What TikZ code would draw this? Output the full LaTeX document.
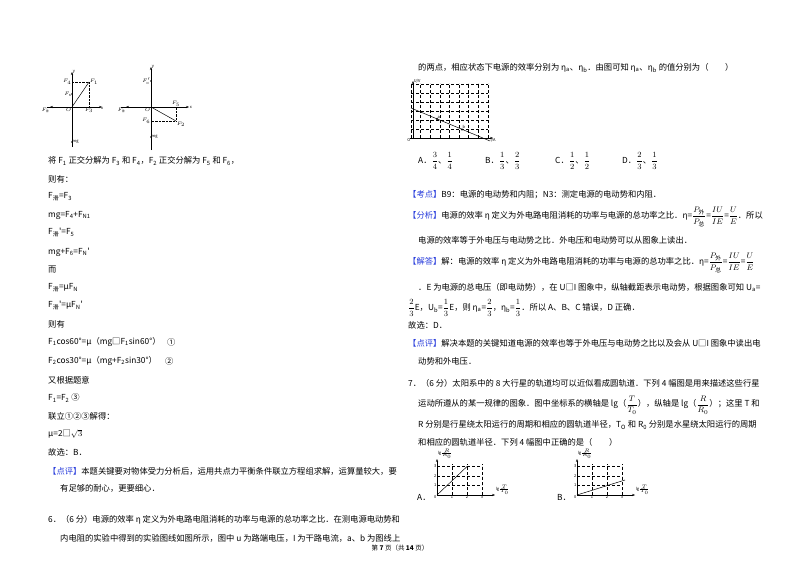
\documentclass[tikz,border=0pt]{standalone}
\usepackage{fontspec}
\usepackage{amsmath}
\setmainfont{Liberation Serif}
\newfontfamily\cn{Noto Sans CJK SC}
\usetikzlibrary{arrows.meta}
\definecolor{kblue}{RGB}{40,60,220}
\newcommand{\zh}[1]{\text{\cn #1}}
\begin{document}
\begin{tikzpicture}[x=1pt,y=-1pt,
 t/.style={anchor=west,inner sep=0pt,font=\fontsize{8.3}{10}\selectfont\cn},
 sm/.style={inner sep=0.5pt,font=\fontsize{4}{4}\selectfont\cn\itshape},
 ax/.style={line width=0.5pt,-{Stealth[length=3pt]}},
 grd/.style={densely dashed,line width=0.35pt}]
\useasboundingbox[fill=white] (0,0) rectangle (800,565);
% ---------- left force diagrams
\begin{scope}[shift={(72,107)}]
\coordinate (o1) at (0,0);
\draw[ax] (0,40) -- (0,-35) node[sm,right]{y};
\draw[ax] (-25,0) -- (30,0) node[sm,below]{x};
\draw[ax] (0,0) -- (-22,0) node[sm,below left]{$F_{\zh{滑}}$};
\draw[line width=0.5pt] (o1) -- (17,-25) node[sm,right]{$F_1$};
\draw[densely dotted] (17,-25) -- (0,-25) node[sm,left]{$F_4$};
\draw[densely dotted] (17,-25) -- (17,0) node[sm,below]{$F_3$};
\fill (0,-13) circle(0.9) node[sm,left]{$F_{\text{N}}$};
\node[sm,below left] at (0,0){$O$};
\fill (0,35) circle(0.8) node[sm,right]{mg};
\end{scope}
\begin{scope}[shift={(151,107)}]
\draw[ax] (0,43) -- (0,-40) node[sm,right]{y};
\draw[ax] (-30,0) -- (38,0) node[sm,right]{x};
\draw[ax] (0,0) -- (-25,0) node[sm,below left]{$F_{\zh{滑}}$};
\draw[line width=0.5pt] (0,0) -- (25,14) node[sm,below right]{$F_2$};
\draw[densely dotted] (25,14) -- (0,14) node[sm,left]{$F_6$};
\draw[densely dotted] (25,14) -- (25,0) node[sm,above]{$F_5$};
\fill (0,-26) circle(0.9) node[sm,left]{$F_{\text{N}}'$};
\node[sm,below left] at (0,0){$O$};
\fill (0,30) circle(0.8) node[sm,right]{mg};
\end{scope}
% ---------- left text
\node[t] (l1) at (48,161) {将 F\textsubscript{1} 正交分解为 F\textsubscript{3} 和 F\textsubscript{4}，F\textsubscript{2} 正交分解为 F\textsubscript{5} 和 F\textsubscript{6}，};
\node[t] (l2) at (48,179) {则有：};
\node[t] (l3) at (48,197) {F\textsubscript{滑}=F\textsubscript{3}};
\node[t] (l4) at (48,215) {mg=F\textsubscript{4}+F\textsubscript{N1}};
\node[t] (l5) at (48,233) {F\textsubscript{滑}'=F\textsubscript{5}};
\node[t] (l6) at (48,252) {mg+F\textsubscript{6}=F\textsubscript{N}'};
\node[t] (l7) at (48,270) {而};
\node[t] (l8) at (48,288) {F\textsubscript{滑}=μF\textsubscript{N}};
\node[t] (l9) at (48,306) {F\textsubscript{滑}'=μF\textsubscript{N}'};
\node[t] (l10) at (48,324) {则有};
\node[t] (l11) at (48,342) {F\textsubscript{1}cos60°=μ（mg□F\textsubscript{1}sin60°）};
\node[t] (c1) at (167,342) {①};
\node[t] (l12) at (48,361) {F\textsubscript{2}cos30°=μ（mg+F\textsubscript{2}sin30°）};
\node[t] (c2) at (165,361) {②};
\node[t] (l13) at (48,380) {又根据题意};
\node[t] (l14) at (48,398) {F\textsubscript{1}=F\textsubscript{2} ③};
\node[t] (l15) at (48,416) {联立①②③解得：};
\node[t] (l16) at (48,434) {μ=2□$\sqrt{3}$};
\node[t] (l17) at (48,452) {故选：B．};
\node[t] (l18) at (48,471) {{\color{kblue}【点评】}本题关键要对物体受力分析后，运用共点力平衡条件联立方程组求解，运算量较大，要};
\node[t] (l19) at (60,488) {有足够的耐心，更要细心．};
\node[t] (l20) at (48,520) {6．（6 分）电源的效率 η 定义为外电路电阻消耗的功率与电源的总功率之比．在测电源电动势和};
\node[t] (l21) at (60,538) {内电阻的实验中得到的实验图线如图所示，图中 u 为路端电压，I 为干路电流，a、b 为图线上};
% ---------- right column
\node[t] (r1) at (418,68) {的两点，相应状态下电源的效率分别为 η\textsubscript{a}、η\textsubscript{b}．由图可知 η\textsubscript{a}、η\textsubscript{b} 的值分别为（\qquad）};
\begin{scope}[shift={(413,138)}]
\foreach \i in {0,...,8}{\draw[grd] (-2+\i*9.6,0) -- (-2+\i*9.6,-55);}
\foreach \j in {1,...,6}{\draw[grd] (-2,-\j*9) -- (75,-\j*9);}
\draw[ax] (0,0) -- (0,-57) node[sm,right]{U/V};
\draw[ax] (-3,0) -- (80,0) node[sm,below]{I/A};
\node[sm,below left] at (-2,0){O};
\draw[line width=0.5pt] (-2,-30) -- (77,3);
\fill (24,-19) circle(1.2) node[sm,above right]{a};
\fill (49,-8.5) circle(1.2) node[sm,above right]{b};
\end{scope}
\node[t] (oa) at (418,161) {A．$\dfrac{3}{4}$、$\dfrac{1}{4}$};
\node[t] (ob) at (485,161) {B．$\dfrac{1}{3}$、$\dfrac{2}{3}$};
\node[t] (oc) at (555,161) {C．$\dfrac{1}{2}$、$\dfrac{1}{2}$};
\node[t] (od) at (622,161) {D．$\dfrac{2}{3}$、$\dfrac{1}{3}$};
\node[t] (r2) at (408,195) {{\color{kblue}【考点】}B9：电源的电动势和内阻；N3：测定电源的电动势和内阻．};
\node[t] (r3) at (408,217) {{\color{kblue}【分析】}电源的效率 η 定义为外电路电阻消耗的功率与电源的总功率之比．η=$\dfrac{P_{\zh{外}}}{P_{\zh{总}}}$=$\dfrac{IU}{IE}$=$\dfrac{U}{E}$．所以};
\node[t] (r4) at (418,240) {电源的效率等于外电压与电动势之比．外电压和电动势可以从图象上读出．};
\node[t] (r5) at (408,263) {{\color{kblue}【解答】}解：电源的效率 η 定义为外电路电阻消耗的功率与电源的总功率之比．η=$\dfrac{P_{\zh{外}}}{P_{\zh{总}}}$=$\dfrac{IU}{IE}$=$\dfrac{U}{E}$};
\node[t] (r6) at (418,287) {．E 为电源的总电压（即电动势），在 U□I 图象中，纵轴截距表示电动势，根据图象可知 U\textsubscript{a}=};
\node[t] (r7) at (408,308) {$\dfrac{2}{3}$E，U\textsubscript{b}=$\dfrac{1}{3}$E，则 η\textsubscript{a}=$\dfrac{2}{3}$，η\textsubscript{b}=$\dfrac{1}{3}$．所以 A、B、C 错误，D 正确．};
\node[t] (r8) at (408,325) {故选：D．};
\node[t] (r9) at (408,343) {{\color{kblue}【点评】}解决本题的关键知道电源的效率也等于外电压与电动势之比以及会从 U□I 图象中读出电};
\node[t] (r10) at (418,361) {动势和外电压．};
\node[t] (r11) at (408,383) {7．（6 分）太阳系中的 8 大行星的轨道均可以近似看成圆轨道．下列 4 幅图是用来描述这些行星};
\node[t] (r12) at (418,405) {运动所遵从的某一规律的图象．图中坐标系的横轴是 lg（$\dfrac{T}{T_0}$），纵轴是 lg（$\dfrac{R}{R_0}$）；这里 T 和};
\node[t] (r13) at (418,425) {R 分别是行星绕太阳运行的周期和相应的圆轨道半径，T\textsubscript{O} 和 R\textsubscript{0} 分别是水星绕太阳运行的周期};
\node[t] (r14) at (418,442) {和相应的圆轨道半径．下列 4 幅图中正确的是（\qquad）};
% graphs A and B
\foreach \ox/\lab/\ex/\ey in {437/A/30/-28.5, 577/B/48/-15}{
 \begin{scope}[shift={(\ox,495)}]
 \foreach \i in {1,2,3}{\draw[grd] (\i*15,0) -- (\i*15,-31); \draw[grd] (0,-\i*9.5) -- (45,-\i*9.5);
  \node[sm,below] at (\i*15,0){\upshape\i}; \node[sm,left] at (0,-\i*9.5){\upshape\i};}
 \draw[ax] (0,0) -- (0,-36) node[sm,above right]{lg$\frac{R}{R_0}$};
 \draw[ax] (0,0) -- (58,0) node[sm,above right]{lg$\frac{T}{T_0}$};
 \node[sm,below left] at (0,0){\upshape0};
 \draw[line width=0.5pt] (0,0) -- (\ex,\ey);
 \node[t] at (-20,2){\lab．};
 \end{scope}}
\node[inner sep=0,font=\fontsize{6.5}{8}\selectfont\cn] (ft) at (400,548) {第 \textbf{7} 页（共 \textbf{14} 页）};
\end{tikzpicture}
\end{document}
